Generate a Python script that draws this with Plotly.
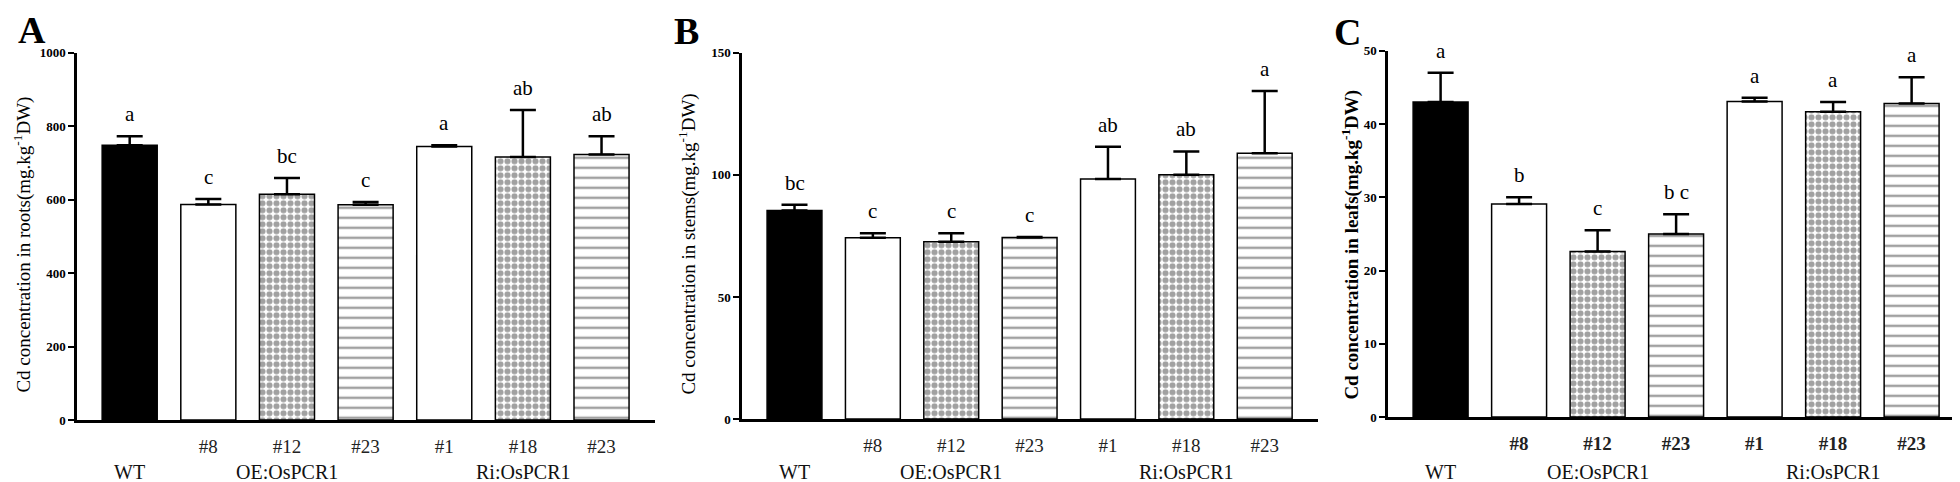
import plotly.graph_objects as go

# lines tested
lines = ["WT", "#8", "#12", "#23", "#1", "#18", "#23"]
tick_text = ["#8", "#12", "#23", "#1", "#18", "#23"]
groups = ["WT", "OE:OsPCR1", "Ri:OsPCR1"]
group_at = [0, 2, 5]

# Cd concentration, mg/kg DW (mean, SE) + significance letters
roots = [748, 587, 615, 586, 745, 716, 723]
roots_err = [25, 15, 44, 8, 3, 128, 50]
roots_sig = ["a", "c", "bc", "c", "a", "ab", "ab"]

stems = [85.4, 74.2, 72.6, 74.3, 98.3, 100.0, 108.9]
stems_err = [2.4, 1.9, 3.5, 0.3, 13.2, 9.6, 25.5]
stems_sig = ["bc", "c", "c", "c", "ab", "ab", "a"]

leafs = [43.0, 29.1, 22.6, 25.0, 43.1, 41.7, 42.8]
leafs_err = [4.0, 0.9, 2.9, 2.7, 0.5, 1.3, 3.6]
leafs_sig = ["a", "b", "c", "b c", "a", "a", "a"]

fills = ["black", "white", "white", "white", "white", "white", "white"]
shapes = ["", "", ".", "-", "", ".", "-"]
pat_size = [6, 6, 7, 10, 6, 7, 10]
pat_solid = [0.5, 0.5, 0.6, 0.25, 0.5, 0.6, 0.25]

W, H = 1960, 482
SERIF = "Liberation Serif, Times New Roman, serif"

panels = [
    dict(letter="A", vals=roots, err=roots_err, sig=roots_sig, ymax=1000, dtick=200,
         title="Cd concentration in roots(mg.kg<sup>-1</sup>DW)", bold=False,
         xpx=(69, 647), ypx=(39, 418), title_x=15, letter_xy=(24, 15)),
    dict(letter="B", vals=stems, err=stems_err, sig=stems_sig, ymax=150, dtick=50,
         title="Cd concentration in stems(mg.kg<sup>-1</sup>DW)", bold=False,
         xpx=(734, 1310), ypx=(39, 417), title_x=680, letter_xy=(678, 16)),
    dict(letter="C", vals=leafs, err=leafs_err, sig=leafs_sig, ymax=50, dtick=10,
         title="Cd concentration in leafs(mg.kg<sup>-1</sup>DW)", bold=True,
         xpx=(1380, 1957), ypx=(37, 415), title_x=1343, letter_xy=(1339, 18)),
]

fig = go.Figure()
annotations = []
xpos = list(range(len(lines)))

for i, p in enumerate(panels):
    n = "" if i == 0 else str(i + 1)
    xa, ya = "x" + n, "y" + n

    fig.add_trace(go.Bar(
        x=xpos, y=p["vals"], xaxis=xa, yaxis=ya, width=0.7,
        marker=dict(color=fills, line=dict(color="black", width=1.5),
                    pattern=dict(shape=shapes, fgcolor="black", bgcolor="white",
                                 size=pat_size, solidity=pat_solid)),
        error_y=dict(type="data", symmetric=False, array=p["err"],
                     arrayminus=[0] * len(lines), color="black",
                     thickness=2.5, width=13),
        showlegend=False,
    ))

    fig.layout["xaxis" + n] = dict(
        domain=[p["xpx"][0] / W, p["xpx"][1] / W], anchor=ya,
        range=[-0.67, 6.68], tickvals=xpos[1:], ticktext=tick_text,
        showline=True, linecolor="black", linewidth=3, ticks="",
        showgrid=False, zeroline=False, ticklabelstandoff=7,
        tickfont=dict(family=SERIF, size=19, color="#222",
                      weight="bold" if p["bold"] else "normal"),
    )
    fig.layout["yaxis" + n] = dict(
        domain=[1 - p["ypx"][1] / H, 1 - p["ypx"][0] / H], anchor=xa,
        range=[0, p["ymax"]], dtick=p["dtick"],
        showline=True, linecolor="black", linewidth=2.5,
        ticks="outside", ticklen=6, tickwidth=2, tickcolor="black",
        showgrid=False, zeroline=False,
        tickfont=dict(family=SERIF, size=13, color="black", weight="bold"),
    )

    # significance letters
    for k in range(len(lines)):
        annotations.append(dict(
            x=xpos[k], y=p["vals"][k] + p["err"][k], xref=xa, yref=ya,
            text=p["sig"][k], showarrow=False, yanchor="bottom", yshift=8,
            font=dict(family=SERIF, size=21, color="black"),
        ))

    # group labels
    for g, gx in zip(groups, group_at):
        annotations.append(dict(
            x=gx, y=1 - 472 / H, xref=xa, yref="paper", text=g,
            showarrow=False, yanchor="middle",
            font=dict(family=SERIF, size=20, color="#111"),
        ))

    # y title
    annotations.append(dict(
        x=p["title_x"] / W, y=1 - 237 / H, xref="paper", yref="paper",
        text=p["title"], textangle=-90, showarrow=False,
        xanchor="center", yanchor="middle",
        font=dict(family=SERIF, size=19, color="black",
                  weight="bold" if p["bold"] else "normal"),
    ))

    # panel letter
    lx, ly = p["letter_xy"]
    annotations.append(dict(
        x=lx / W, y=1 - ly / H, xref="paper", yref="paper",
        text=p["letter"], showarrow=False, xanchor="center", yanchor="middle",
        font=dict(family=SERIF, size=38, color="black", weight="bold"),
    ))

fig.update_layout(
    width=W, height=H, margin=dict(l=0, r=0, t=0, b=0),
    paper_bgcolor="white", plot_bgcolor="white",
    bargap=0.3, annotations=annotations,
)

fig.write_html("out.html")
